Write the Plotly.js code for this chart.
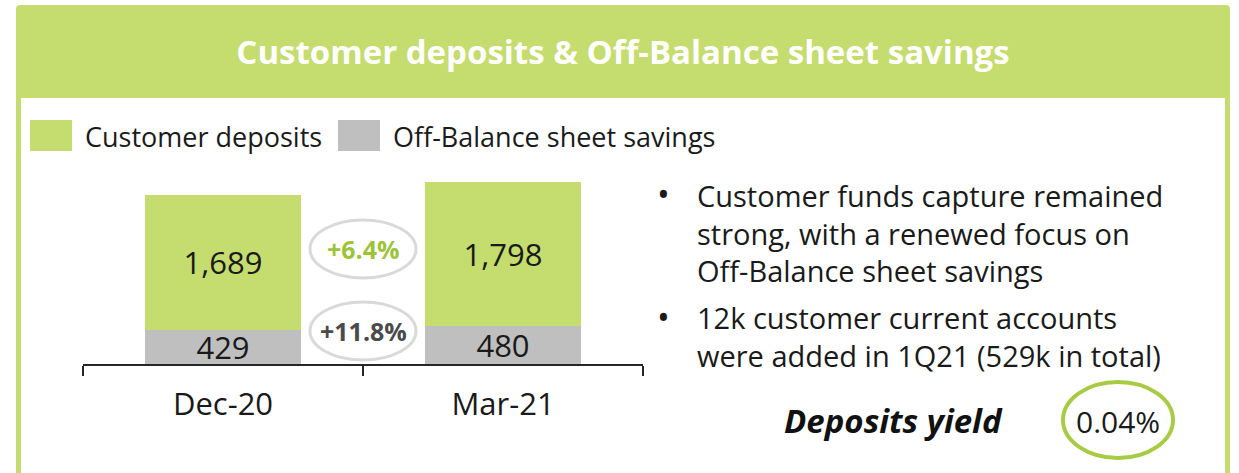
<!DOCTYPE html>
<html>
<head>
<meta charset="utf-8">
<script src="https://cdn.plot.ly/plotly-3.0.1.min.js"></script>
<style>html,body{margin:0;padding:0;background:#fff;}#chart{width:1239px;height:473px;}</style>
</head>
<body>
<div id="chart"></div>
<script>
// ---- data ----
const categories = ['Dec-20', 'Mar-21'];
const seriesNames = ['Customer deposits', 'Off-Balance sheet savings'];
const customerDeposits = [1689, 1798];
const offBalanceSavings = [429, 480];
const growthLabels = ['+6.4%', '+11.8%'];
const bulletTexts = [
  ['Customer funds capture remained', 'strong, with a renewed focus on', 'Off-Balance sheet savings'],
  ['12k customer current accounts', 'were added in 1Q21 (529k in total)']
];
const yieldLabel = 'Deposits yield';
const yieldValue = '0.04%';
const chartTitle = 'Customer deposits & Off-Balance sheet savings';

// ---- styling ----
const GREEN = '#C5DC6E';
const GREY = '#BFBFBF';
const FONT = 'Open Sans, Noto Sans, sans-serif';
const W = 1239, H = 473;
const M = {l: 83, r: 596, t: 170, b: 109};
const PW = W - M.l - M.r, PH = H - M.t - M.b;
const PX = x => (x - M.l) / PW;
const PY = y => (H - M.b - y) / PH;

const traces = [
  {
    type: 'bar', name: seriesNames[1], x: categories, y: offBalanceSavings,
    marker: {color: GREY}, texttemplate: '%{y:,}', textposition: 'inside',
    insidetextanchor: 'middle', textangle: 0, constraintext: 'none',
    textfont: {family: FONT, size: 31, color: '#1a1a1a'}, hoverinfo: 'skip'
  },
  {
    type: 'bar', name: seriesNames[0], x: categories, y: customerDeposits,
    marker: {color: GREEN}, texttemplate: '%{y:,}', textposition: 'inside',
    insidetextanchor: 'middle', textangle: 0, constraintext: 'none',
    textfont: {family: FONT, size: 31, color: '#1a1a1a'}, hoverinfo: 'skip'
  }
];

function roundTopRect(x0, y0, x1, y1, r) {
  return `M${PX(x0)},${PY(y1)} L${PX(x0)},${PY(y0 + r)} Q${PX(x0)},${PY(y0)} ${PX(x0 + r)},${PY(y0)} ` +
         `L${PX(x1 - r)},${PY(y0)} Q${PX(x1)},${PY(y0)} ${PX(x1)},${PY(y0 + r)} L${PX(x1)},${PY(y1)} Z`;
}

const shapes = [
  {type: 'path', xref: 'paper', yref: 'paper', layer: 'below', path: roundTopRect(16, 5, 1230, 490, 4),
   fillcolor: GREEN, line: {width: 0}},
  {type: 'rect', xref: 'paper', yref: 'paper', layer: 'below', x0: PX(21), x1: PX(1225), y0: PY(98), y1: PY(490),
   fillcolor: '#FFFFFF', line: {width: 0}},
  // legend swatches
  {type: 'rect', xref: 'paper', yref: 'paper', x0: PX(30), x1: PX(72), y0: PY(151), y1: PY(120), fillcolor: GREEN, line: {width: 0}},
  {type: 'rect', xref: 'paper', yref: 'paper', x0: PX(338), x1: PX(380), y0: PY(151), y1: PY(120), fillcolor: GREY, line: {width: 0}},
  // growth ellipses
  {type: 'circle', xref: 'paper', yref: 'paper', x0: PX(310), x1: PX(416), y0: PY(278), y1: PY(220), line: {color: '#D9D9D9', width: 3}},
  {type: 'circle', xref: 'paper', yref: 'paper', x0: PX(310), x1: PX(416), y0: PY(360), y1: PY(302), line: {color: '#D9D9D9', width: 3}},
  // yield ellipse
  {type: 'circle', xref: 'paper', yref: 'paper', x0: PX(1063), x1: PX(1173), y0: PY(458), y1: PY(382), line: {color: '#A8CB45', width: 4}}
];

const ann = (x, y, text, font, xanchor) => ({
  xref: 'paper', yref: 'paper', x: PX(x), y: PY(y), text: text, showarrow: false,
  xanchor: xanchor || 'center', yanchor: 'middle', align: xanchor === 'left' ? 'left' : 'center', font: font
});

const annotations = [
  ann(83, 136, seriesNames[0], {family: FONT, size: 27, color: '#1a1a1a'}, 'left'),
  ann(391, 136, seriesNames[1], {family: FONT, size: 27, color: '#1a1a1a'}, 'left'),
  ann(363, 249, growthLabels[0], {family: FONT, size: 25, color: '#9DC33B', weight: 700}),
  ann(363, 331, growthLabels[1], {family: FONT, size: 25, color: '#4A4A4A', weight: 700}),
  ann(663, 194, '•', {family: FONT, size: 34, color: '#1a1a1a'}),
  ann(663, 317, '•', {family: FONT, size: 34, color: '#1a1a1a'}),
  ann(695, 233, bulletTexts[0].join('<br>'), {family: FONT, size: 29, color: '#1a1a1a'}, 'left'),
  ann(695, 336, bulletTexts[1].join('<br>'), {family: FONT, size: 29, color: '#1a1a1a'}, 'left'),
  ann(893, 420, yieldLabel, {family: FONT, size: 33, color: '#111111', weight: 700, style: 'italic'}),
  ann(1118, 421, yieldValue, {family: FONT, size: 30, color: '#1a1a1a'})
];

const layout = {
  width: W, height: H,
  margin: M,
  paper_bgcolor: '#FFFFFF', plot_bgcolor: 'rgba(0,0,0,0)',
  showlegend: false,
  barmode: 'stack', bargap: 0.44,
  title: {text: chartTitle, xref: 'container', yref: 'container', x: 623 / W, xanchor: 'center',
          y: 1 - 52 / H, yanchor: 'middle', font: {family: FONT, size: 33, color: '#FFFFFF', weight: 700}},
  xaxis: {type: 'category', showline: true, linecolor: '#262626', linewidth: 1.5, ticks: 'outside',
          tickson: 'boundaries', ticklen: 10, tickwidth: 1.5, tickcolor: '#262626', showgrid: false,
          ticklabelstandoff: 12,
          tickfont: {family: FONT, size: 31, color: '#1a1a1a'}, fixedrange: true},
  yaxis: {range: [0, 2430], visible: false, showgrid: false, zeroline: false, fixedrange: true},
  shapes: shapes,
  annotations: annotations
};

Plotly.newPlot('chart', traces, layout, {staticPlot: true, displayModeBar: false});
</script>
</body>
</html>
